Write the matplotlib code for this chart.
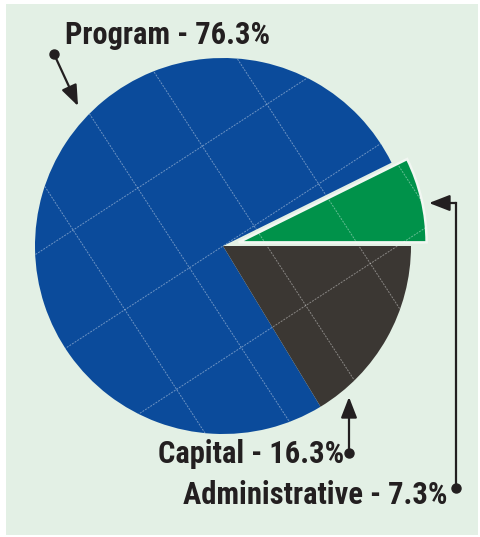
import numpy as np
import matplotlib
matplotlib.use("Agg")
import matplotlib.pyplot as plt
from matplotlib.collections import LineCollection
from matplotlib.patches import Rectangle

# ---- data ----
categories = ["Administrative", "Program", "Capital"]
values = [7.3, 76.3, 16.3]
labels = ["Administrative - 7.3%", "Program - 76.3%", "Capital - 16.3%"]
colors = ["#00924a", "#0b4b9b", "#3b3733"]
explode_px = [16, 0, 0]

W, H = 481, 537
def Y(y):
    return H - y

fam = ["Roboto Condensed", "DejaVu Sans"]

fig = plt.figure(figsize=(W / 100, H / 100), dpi=100)
fig.patch.set_facecolor("white")
ax = fig.add_axes([0, 0, 1, 1])

ax.add_patch(Rectangle((6, Y(535)), 472, 531, facecolor="#e3f0e5", edgecolor="none", zorder=0))

cx, cy = 223, 246
R = 188
wedges, _ = ax.pie(values, colors=colors, explode=explode_px, startangle=0, counterclock=True,
                   center=(cx, Y(cy)), radius=R, frame=True,
                   wedgeprops=dict(linewidth=0))
wedges[0].set_edgecolor("#f2f7f2")
wedges[0].set_linewidth(1.8)
for w in wedges:
    w.set_zorder(2)
ax.set_xlim(0, W)
ax.set_ylim(0, H)
ax.set_aspect("equal")
ax.axis("off")

# faint grid lines over the pie (pixel coords, then flipped)
segs = []
a = np.deg2rad(33)
dirA = np.array([np.cos(a), -np.sin(a)]); nA = np.array([np.sin(a), np.cos(a)])
dirB = np.array([np.sin(a), np.cos(a)]); nB = np.array([np.cos(a), -np.sin(a)])
for d, n, offs in [(dirA, nA, [-285, -190, -95, 0, 95, 190, 285]),
                   (dirB, nB, [-271, -194, -117, -40, 37, 114, 191, 268])]:
    for o in offs:
        p = np.array([cx, cy]) + n * o
        p0 = p - d * 400
        p1 = p + d * 400
        segs.append([(p0[0], Y(p0[1])), (p1[0], Y(p1[1]))])
for w in wedges:
    lc = LineCollection(segs, colors="white", linewidths=0.7, alpha=0.4,
                        linestyles=[(0, (2, 1.2))], zorder=3)
    ax.add_collection(lc)
    lc.set_clip_path(w)

# labels
tkw = dict(fontsize=22, fontweight="bold", color="#231f20", family=fam, zorder=5)
ax.text(65, Y(44), labels[1], ha="left", va="baseline", **tkw)
ax.text(158, Y(463), labels[2], ha="left", va="baseline", **tkw)
ax.text(448, Y(504), labels[0], ha="right", va="baseline", **tkw)

akw = dict(arrowstyle="-|>,head_length=0.9,head_width=0.35", color="#231f20", lw=1.6,
           shrinkA=0, shrinkB=0, mutation_scale=14)
dot = dict(marker="o", ms=6.5, color="#231f20", zorder=6)

# Program arrow
ax.plot([54], [Y(54)], **dot)
ax.annotate("", xy=(78, Y(106)), xytext=(54, Y(54)), arrowprops=akw, zorder=6)
# Capital arrow
ax.plot([349], [Y(453)], **dot)
ax.annotate("", xy=(349, Y(397)), xytext=(349, Y(453)), arrowprops=akw, zorder=6)
# Administrative arrow
ax.plot([456], [Y(488)], **dot)
ax.plot([456, 456], [Y(488), Y(203)], color="#231f20", lw=1.6, zorder=6, solid_capstyle="projecting")
ax.annotate("", xy=(429, Y(203)), xytext=(456, Y(203)), arrowprops=akw, zorder=6)

fig.savefig("out.png", dpi=100, facecolor="white")
